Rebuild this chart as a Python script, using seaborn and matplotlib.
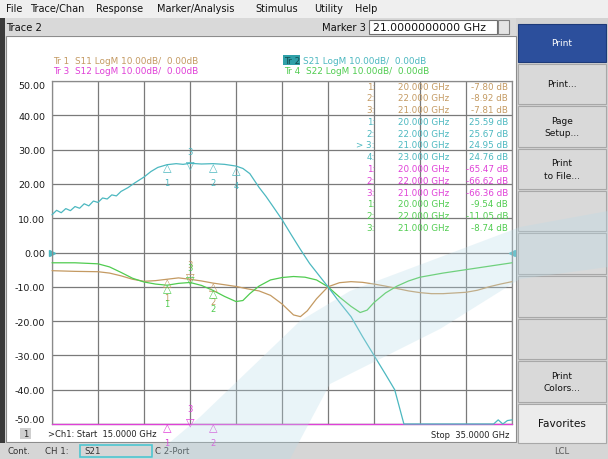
import matplotlib
matplotlib.use("Agg")
import matplotlib.pyplot as plt
import numpy as np
import pandas as pd
import seaborn as sns
from matplotlib.patches import Rectangle, Polygon

# ---- trace data (GHz, dB) ----
s21_freq = [15.0, 15.2, 15.4, 15.6, 15.8, 16.0, 16.2, 16.4, 16.6, 16.8, 17.0, 17.2, 17.4,
            17.6, 17.8, 18.0, 18.3, 18.6, 19.0, 19.3, 19.6, 20.0, 20.4, 20.7, 21.0, 21.5,
            22.0, 22.5, 23.0, 23.3, 23.6, 24.0, 24.3, 24.6, 25.0, 25.4, 25.8, 26.2, 26.6,
            27.0, 27.5, 28.0, 28.5, 29.0, 29.5, 29.9, 30.3, 30.6, 32.0, 33.5, 34.0, 34.2,
            34.4, 34.6, 34.8, 35.0]
s21_db = [11.0, 12.3, 11.6, 12.8, 12.2, 13.4, 12.9, 14.2, 13.6, 15.0, 14.6, 15.9, 15.6,
          16.8, 16.5, 17.8, 18.9, 20.3, 22.0, 23.6, 24.8, 25.6, 25.9, 25.7, 26.0, 25.8,
          25.9, 25.7, 25.2, 24.5, 23.0, 19.0, 16.4, 13.5, 9.6, 5.2, 0.9, -3.2, -6.6,
          -10.0, -14.5, -18.7, -24.5, -30.0, -35.5, -40.0, -50.0, -58.0, -62.0, -60.0,
          -55.0, -51.0, -48.8, -50.5, -49.0, -48.8]

s11_freq = [15, 16, 17, 17.5, 18, 18.5, 19, 19.5, 20, 20.5, 21, 21.5, 22, 22.5, 23, 23.5,
            24, 24.5, 25, 25.5, 25.8, 26.1, 26.5, 27, 27.5, 28, 28.5, 29, 29.5, 30, 30.5,
            31, 31.5, 32, 32.5, 33, 33.5, 34, 34.5, 35]
s11_db = [-5.3, -5.5, -5.6, -6.0, -6.8, -7.8, -8.4, -8.2, -7.8, -7.4, -7.81, -8.3, -8.92,
          -9.4, -9.9, -10.6, -11.2, -12.5, -15.0, -18.2, -18.7, -17.0, -13.5, -10.0, -8.8,
          -8.5, -8.7, -9.2, -9.8, -10.5, -11.2, -11.7, -12.0, -12.0, -11.8, -11.6, -11.0,
          -10.0, -9.2, -8.5]

s12_freq = [15, 20, 21, 22, 25, 30, 35]
s12_db = [-68.0, -65.47, -66.36, -66.62, -64.0, -62.0, -60.0]

s22_freq = [15, 16, 17, 17.5, 18, 18.5, 19, 19.5, 20, 20.5, 21, 21.5, 22, 22.5, 23, 23.3,
            23.6, 24, 24.5, 25, 25.5, 26, 26.5, 27, 27.5, 28, 28.4, 28.7, 29, 29.5, 30,
            30.5, 31, 32, 33, 34, 35]
s22_db = [-3.0, -3.0, -3.3, -4.2, -5.8, -7.5, -8.6, -9.2, -9.54, -9.0, -8.74, -9.6, -11.05,
          -12.8, -14.3, -14.0, -12.0, -9.8, -8.0, -7.3, -7.0, -7.2, -8.0, -10.0, -13.0,
          -15.7, -17.5, -16.8, -14.6, -11.8, -9.8, -8.3, -7.2, -6.0, -5.0, -4.0, -3.0]

# ---- marker table ----
marker_ids = {"S11": ["1", "2", "3"], "S21": ["1", "2", "3", "4"],
              "S12": ["1", "2", "3"], "S22": ["1", "2", "3"]}
marker_freq = {"S11": [20, 22, 21], "S21": [20, 22, 21, 23],
               "S12": [20, 22, 21], "S22": [20, 22, 21]}
marker_db = {"S11": [-7.80, -8.92, -7.81], "S21": [25.59, 25.67, 24.95, 24.76],
             "S12": [-65.47, -66.62, -66.36], "S22": [-9.54, -11.05, -8.74]}
active_marker = "3"

trace_order = ["S11", "S21", "S12", "S22"]
colors = {"S11": "#c49a62", "S21": "#4cb8c0", "S12": "#e040d8", "S22": "#50cc50"}

W, H = 608, 460
def fx(x):
    return x / W
def fy(y):
    return 1 - y / H

sns.set_theme(style="white")
plt.rcParams["font.family"] = ["DejaVu Sans"]

fig = plt.figure(figsize=(6.08, 4.60), dpi=100)
fig.patch.set_facecolor("#d3d3d3")

def box(x0, y0, x1, y1, fc, ec="none", lw=0.8, z=-2):
    fig.patches.append(Rectangle((fx(x0), fy(y1)), (x1 - x0) / W, (y1 - y0) / H,
                                 transform=fig.transFigure, facecolor=fc, edgecolor=ec,
                                 lw=lw, zorder=z))

# window chrome
box(0, 0, 608, 19, "#efefef")
box(0, 19, 516, 37, "#d9d9d9")
box(6, 37, 516, 443, "#ffffff", ec="#8c8c8c", z=-3)
box(0, 19, 5, 444, "#3a3a3a")
box(0, 444, 608, 460, "#d6d6d6")

menu = [("File", 6), ("Trace/Chan", 30), ("Response", 96), ("Marker/Analysis", 157),
        ("Stimulus", 255), ("Utility", 314), ("Help", 355)]
for label, x in menu:
    fig.text(fx(x), fy(9), label, fontsize=7.0, va="center", color="#111111")
fig.text(fx(6), fy(28), "Trace 2", fontsize=7.2, va="center", color="#111111")
fig.text(fx(366), fy(28), "Marker 3", fontsize=7.2, va="center", ha="right", color="#111111")
box(369, 21, 497, 35, "#ffffff", ec="#707070")
fig.text(fx(373), fy(28), "21.0000000000 GHz", fontsize=7.8, va="center", color="#111111")
box(498, 21, 509, 35, "#e4e4e4", ec="#808080")

# right soft-key panel
buttons = [(25, 63, "Print"), (65, 105, "Print..."), (107, 148, "Page\nSetup..."),
           (150, 190, "Print\nto File..."), (192, 232, ""), (234, 275, ""), (277, 318, ""),
           (320, 360, ""), (362, 403, "Print\nColors..."), (405, 444, "Favorites")]
for y0, y1, label in buttons:
    if label == "Print":
        box(518, y0, 606, y1, "#2c4f9c", ec="#1d3a78")
        fig.text(fx(562), fy((y0 + y1) / 2), label, fontsize=6.5, color="white",
                 ha="center", va="center")
    else:
        fc = "#ececec" if label == "Favorites" else "#d9d9d9"
        box(518, y0, 606, y1, fc, ec="#a8a8a8")
        fs = 7.6 if label == "Favorites" else 6.5
        fig.text(fx(562), fy((y0 + y1) / 2), label, fontsize=fs, color="#111111",
                 ha="center", va="center", linespacing=1.5)
fig.text(fx(562), fy(452), "LCL", fontsize=6, color="#555555", ha="center", va="center")

# status bar
fig.text(fx(8), fy(452), "Cont.", fontsize=6.2, va="center", color="#333333")
fig.text(fx(45), fy(452), "CH 1:", fontsize=6.2, va="center", color="#333333")
box(80, 446, 152, 458, "#d6d6d6", ec="#4cc6d0", lw=1.2)
fig.text(fx(84), fy(452), "S21", fontsize=6.2, va="center", color="#333333")
fig.text(fx(155), fy(452), "C 2-Port", fontsize=6.2, va="center", color="#333333")

# trace header lines
hdr = "LogM 10.00dB/  0.00dB"
fig.text(fx(53), fy(61), "Tr 1  S11 " + hdr, fontsize=6.4, va="center", color=colors["S11"])
fig.text(fx(53), fy(72), "Tr 3  S12 " + hdr, fontsize=6.4, va="center", color=colors["S12"])
box(283, 56, 300, 66, "#2fa0a8")
fig.text(fx(284), fy(61), "Tr 2", fontsize=6.4, va="center", color="#124c50")
fig.text(fx(303), fy(61), "S21 " + hdr, fontsize=6.4, va="center", color=colors["S21"])
fig.text(fx(284), fy(72), "Tr 4  S22 " + hdr, fontsize=6.4, va="center", color=colors["S22"])

# ---- measurement grid ----
ax = fig.add_axes([fx(52), fy(425), 460 / W, 343 / H])
ax.set_facecolor("none")

frames = []
for name, fr, db in [("S11", s11_freq, s11_db), ("S21", s21_freq, s21_db),
                     ("S12", s12_freq, s12_db), ("S22", s22_freq, s22_db)]:
    # off-scale readings are pinned to the graticule edge like on the instrument
    frames.append(pd.DataFrame({"freq": fr, "dB": np.clip(db, -50, 50), "trace": name}))
df = pd.concat(frames, ignore_index=True)

sns.lineplot(data=df, x="freq", y="dB", hue="trace", hue_order=["S12", "S11", "S22", "S21"],
             palette=colors, estimator=None, sort=False, legend=False, lw=0.9, ax=ax)
for ln in ax.lines:
    ln.set_clip_on(False)
    ln.set_zorder(3)

ax.set_xlim(15, 35)
ax.set_ylim(-50, 50)
ax.set_xticks(np.arange(15, 36, 2))
ax.set_xticklabels([])
ax.set_xlabel("")
ax.set_ylabel("")
yt = np.arange(-50, 51, 10)
ax.set_yticks(yt)
ax.set_yticklabels([f"{v:.2f}" for v in yt], fontsize=6.8, color="#1a1a1a")
ax.get_yticklabels()[0].set_verticalalignment("bottom")
ax.get_yticklabels()[-1].set_verticalalignment("top")
ax.tick_params(length=0, pad=5)
ax.grid(True, color="#7a7a7a", lw=0.9)
for sp in ax.spines.values():
    sp.set_color("#8a8a8a")
    sp.set_linewidth(0.9)

# reference level arrows at 0 dB
ax.plot([15], [0], marker=">", ms=4, color=colors["S21"], clip_on=False)
ax.plot([35], [0], marker="<", ms=4, color=colors["S21"], clip_on=False)

# markers
for name in trace_order:
    c = colors[name]
    for mid, f, v in zip(marker_ids[name], marker_freq[name], marker_db[name]):
        v = max(v, -50)
        if mid == active_marker:
            ax.annotate("\u25BD", xy=(f, v), xytext=(0, -1.5), textcoords="offset points",
                        ha="center", va="bottom", fontsize=8, color=c, annotation_clip=False)
            ax.annotate(mid, xy=(f, v), xytext=(0, 11), textcoords="offset points",
                        ha="center", va="center", fontsize=6, color=c, annotation_clip=False)
        else:
            ax.annotate("\u25B3", xy=(f, v), xytext=(0, 1.5), textcoords="offset points",
                        ha="center", va="top", fontsize=8, color=c, annotation_clip=False)
            ax.annotate(mid, xy=(f, v), xytext=(0, -13), textcoords="offset points",
                        ha="center", va="center", fontsize=6, color=c, annotation_clip=False)

# marker readout table
row = 0
for name in trace_order:
    c = colors[name]
    for mid, f, v in zip(marker_ids[name], marker_freq[name], marker_db[name]):
        y = 87 + row * 11.8
        tag = ("> " if mid == active_marker and name == "S21" else "") + mid + ":"
        fig.text(fx(375), fy(y), tag, fontsize=6.3, ha="right", va="center", color=c)
        fig.text(fx(449), fy(y), f"{f:.3f} GHz", fontsize=6.3, ha="right", va="center", color=c)
        fig.text(fx(508), fy(y), f"{v:.2f} dB", fontsize=6.3, ha="right", va="center", color=c)
        row += 1

# channel footer inside the display
box(20, 429, 31, 440, "#cfcfcf")
fig.text(fx(25.5), fy(434.5), "1", fontsize=6, ha="center", va="center", color="#222222")
fig.text(fx(48), fy(434.5), ">Ch1: Start  15.0000 GHz", fontsize=6, va="center", color="#222222")
fig.text(fx(509), fy(436), "Stop  35.0000 GHz", fontsize=6, ha="right", va="center", color="#222222")

# faint reflection across the screen
upper = [(150, 460), (200, 418), (250, 370), (300, 322), (350, 292), (430, 262), (520, 228), (608, 212)]
lower = [(608, 268), (520, 280), (440, 330), (380, 360), (330, 385), (290, 460)]
pts = [(fx(x), fy(y)) for x, y in upper + lower]
fig.patches.append(Polygon(pts, closed=True, transform=fig.transFigure,
                           facecolor="#b9dce8", alpha=0.3, edgecolor="none", zorder=5))

fig.savefig("out.png", dpi=100)
